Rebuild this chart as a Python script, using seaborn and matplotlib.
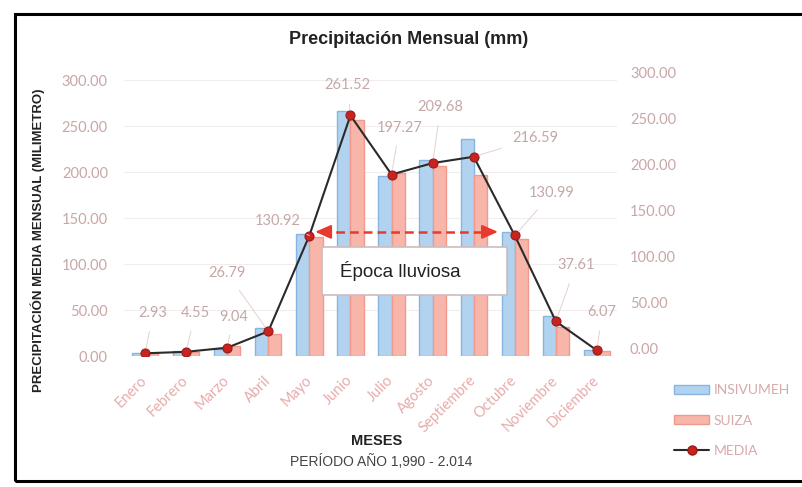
import numpy as np
import pandas as pd
import matplotlib
matplotlib.use("Agg")
import matplotlib.pyplot as plt
import seaborn as sns
from matplotlib.patches import Rectangle, Patch
from matplotlib.lines import Line2D

# ---------------- data ----------------
meses = ["Enero", "Febrero", "Marzo", "Abril", "Mayo", "Junio", "Julio",
         "Agosto", "Septiembre", "Octubre", "Noviembre", "Diciembre"]
insivumeh = [3.0, 5.0, 7.5, 30.0, 133.0, 266.0, 196.0, 213.0, 236.0, 135.0, 43.0, 7.0]
suiza = [2.9, 4.1, 10.5, 23.6, 129.0, 257.0, 199.0, 206.4, 197.0, 127.0, 32.0, 5.0]
media = [2.93, 4.55, 9.04, 26.79, 130.92, 261.52, 197.27, 209.68, 216.59, 130.99, 37.61, 6.07]
media_labels = ["2.93", "4.55", "9.04", "26.79", "130.92", "261.52", "197.27",
                "209.68", "216.59", "130.99", "37.61", "6.07"]
series = ["INSIVUMEH", "SUIZA", "MEDIA"]
yticks = [0, 50, 100, 150, 200, 250, 300]
ytick_labels = ["0.00", "50.00", "100.00", "150.00", "200.00", "250.00", "300.00"]

# label offsets (pixels) relative to each MEDIA point -- layout only
label_off = [(8, 40), (9, 39), (6, 31), (-41, 58), (-32, 15), (-3, 30),
             (8, 47), (8, 56), (62, 19), (37, 42), (20, 56), (5, 38)]

# ---------------- style ----------------
sns.set_theme(style="white")
plt.rcParams["font.family"] = ["Lato", "DejaVu Sans"]
NARROW = ["Liberation Sans", "DejaVu Sans"]

W, H = 803, 487
fig = plt.figure(figsize=(W / 100, H / 100), dpi=100)
fig.patch.set_facecolor("white")

ax = fig.add_axes([124.5 / W, 1 - 356 / H, 493 / W, 276 / H])

blue, blue_edge = "#b2d3ef", "#86b5df"
salmon, salmon_edge = "#f8b5aa", "#f09a8d"
tick_col = "#c9a6a6"
xtick_col = "#e8abab"
lab_col = "#c4a8a8"

df = pd.DataFrame({
    "Mes": meses * 2,
    "Valor": insivumeh + suiza,
    "Fuente": [series[0]] * len(meses) + [series[1]] * len(meses),
})
sns.barplot(data=df, x="Mes", y="Valor", hue="Fuente", hue_order=series[:2],
            palette=[blue, salmon], width=0.64, saturation=1, ax=ax,
            legend=False, errorbar=None)
for i, p in enumerate(ax.patches):
    p.set_edgecolor(blue_edge if i < len(meses) else salmon_edge)
    p.set_linewidth(1.0)
    p.set_zorder(2)

x = np.arange(len(meses))
ax.plot(x, media, color="#2a2a2a", lw=1.5, marker="o", ms=6.5,
        mfc="#c8231f", mec="#9a1a18", mew=0.8, zorder=6)

# data labels with leader lines
for xi, v, txt, (dx, dy) in zip(x, media, media_labels, label_off):
    ax.annotate(txt, xy=(xi, v), xytext=(dx, dy), textcoords="offset pixels",
                ha="center", va="center", fontsize=10.5, color=lab_col,
                arrowprops=dict(arrowstyle="-", color="#e4d0d0", lw=0.7,
                                shrinkA=6, shrinkB=4), zorder=7)

# axes styling
ax.set_xlim(-0.5, len(meses) - 0.5)
ax.set_ylim(0, 300)
ax.set_yticks(yticks)
ax.set_yticklabels(ytick_labels)
ax.tick_params(axis="y", length=0, pad=12, labelsize=10.5, labelcolor=tick_col)
ax.set_xticks(x)
ax.set_xticklabels(meses, rotation=45, ha="right", va="center",
                   rotation_mode="anchor")
ax.tick_params(axis="x", length=0, pad=16, labelsize=10.5, labelcolor=xtick_col)
ax.set_xlabel("")
ax.set_ylabel("")
for s in ax.spines.values():
    s.set_visible(False)
ax.yaxis.grid(True, color="#f2eded", lw=0.8)
ax.set_axisbelow(True)

# secondary (right) axis
ax2 = fig.add_axes([124.5 / W, 1 - 349 / H, 493 / W, 277 / H], facecolor="none")
ax2.set_ylim(0, 300)
ax2.set_yticks(yticks)
ax2.set_yticklabels(ytick_labels)
ax2.yaxis.tick_right()
ax2.tick_params(axis="y", length=0, pad=9, labelsize=10.5, labelcolor=tick_col)
ax2.set_xticks([])
for s in ax2.spines.values():
    s.set_visible(False)

# Época lluviosa box and arrow
ax.add_patch(Rectangle((4.31, 66), 4.49, 52.5, facecolor="white",
                       edgecolor="#cdbcbc", lw=1.2, zorder=4))
ax.text(4.74, 92, "Época lluviosa", ha="left", va="center", fontsize=13.5,
        family=NARROW, color="#222222", zorder=8)
ya = media[4] + 4
ax.plot([4.3, 8.45], [ya, ya], color="#e8392e", lw=1.8, ls=(0, (3.5, 2)), zorder=7)
ax.annotate("", xy=(4.14, ya), xytext=(4.45, ya),
            arrowprops=dict(arrowstyle="-|>,head_length=0.8,head_width=0.35",
                            color="#e8392e", lw=1.5, shrinkA=0, shrinkB=0), zorder=7)
ax.annotate("", xy=(8.59, ya), xytext=(8.28, ya),
            arrowprops=dict(arrowstyle="-|>,head_length=0.8,head_width=0.35",
                            color="#e8392e", lw=1.5, shrinkA=0, shrinkB=0), zorder=7)

# titles
fig.text(409 / W, 1 - 40 / H, "Precipitación Mensual (mm)", ha="center", va="center",
         fontsize=13, fontweight="bold", family=NARROW, color="#222222")
fig.text(38 / W, 1 - 240 / H, "PRECIPITACIÓN MEDIA MENSUAL (MILIMETRO)", rotation=90,
         ha="center", va="center", fontsize=9.5, fontweight="bold", family=NARROW,
         color="#222222")
fig.text(377 / W, 1 - 441 / H, "MESES", ha="center", va="center", fontsize=10.5,
         fontweight="bold", family=NARROW, color="#222222")
fig.text(381 / W, 1 - 461 / H, "PERÍODO AÑO 1,990 - 2.014", ha="center", va="center",
         fontsize=10, family=NARROW, color="#444444")

# legend
handles = [
    Patch(facecolor=blue, edgecolor=blue_edge),
    Patch(facecolor=salmon, edgecolor=salmon_edge),
    Line2D([], [], color="#2a2a2a", lw=1.5, marker="o", ms=6.5,
           mfc="#c8231f", mec="#9a1a18"),
]
fig.legend(handles, series, loc="upper left", bbox_to_anchor=(662 / W, 1 - 372 / H),
           frameon=False, fontsize=10, labelcolor="#d6aaaa", handlelength=2.5,
           handleheight=0.6, labelspacing=1.3, handletextpad=0.3)

# outer frame
fig.add_artist(Rectangle((15 / W, 1 - 481 / H), (W + 10 - 15) / W, (481 - 14) / H,
                         transform=fig.transFigure, fill=False, ec="black", lw=2.2))

fig.savefig("out.png", dpi=100)
